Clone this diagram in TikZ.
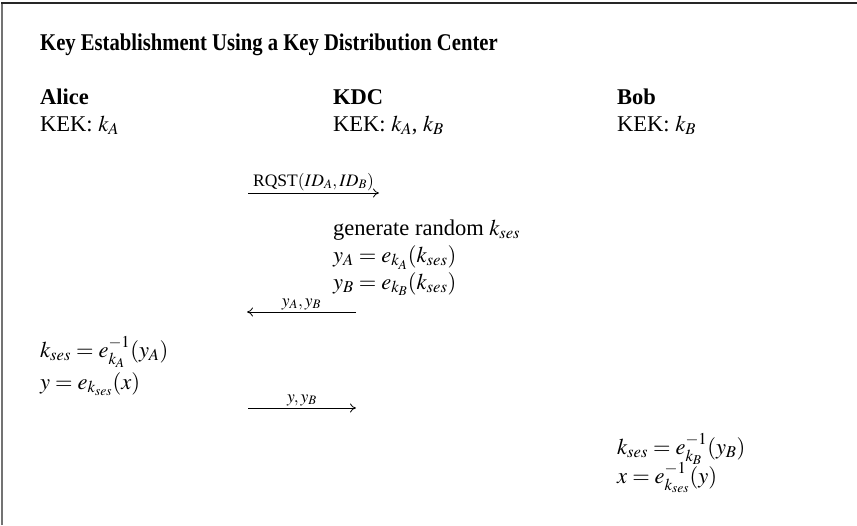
\documentclass[tikz,border=0pt]{standalone}
\usepackage{amsmath}
\usepackage{mathptmx}
\usepackage{fontspec}
\setmainfont{Liberation Serif}
\newfontfamily\titlefam[FakeStretch=0.86]{Liberation Serif}
\usetikzlibrary{arrows.meta,positioning}
\newcommand{\bodyfont}{\fontsize{22.5}{26.5}\selectfont}
\newcommand{\titlefont}{\titlefam\fontsize{24}{28}\selectfont}
\newcommand{\lblfont}{\fontsize{17.5}{21}\selectfont}
\tikzset{
  party/.style ={anchor=base west,inner sep=0pt,font=\bodyfont\bfseries},
  txt/.style   ={anchor=base west,inner sep=0pt,font=\bodyfont},
  msg/.style   ={-{Computer Modern Rightarrow[length=6pt,width=9pt]},line width=0.8pt},
  mlbl/.style  ={above,font=\lblfont,inner sep=2pt},
}

\begin{document}
\begin{tikzpicture}[x=1pt,y=-1pt]
\useasboundingbox (0,0) rectangle (857,525);
% frame
\draw[black!55,line width=2pt] (2,525) -- (2,3);
\draw[black!85,line width=2pt] (1,3) -- (857,3);

\node[anchor=base west,inner sep=0pt,font=\titlefont\bfseries] (title) at (40,50)
  {Key Establishment Using a Key Distribution Center};

% parties
\node[party] (alice) at (40,104)  {Alice};
\node[party] (kdc)   at (333,104) {KDC};
\node[party] (bob)   at (617,104) {Bob};
\node[txt] (kekA) at (40,131)  {KEK: $k_A$};
\node[txt] (kekK) at (333,131) {KEK: $k_A$, $k_B$};
\node[txt] (kekB) at (617,131) {KEK: $k_B$};

% request
\coordinate (m1s) at (248,193);
\coordinate (m1e) at (379,193);
\draw[msg] (m1s) -- node[mlbl]{RQST$(ID_A,ID_B)$} (m1e);

% KDC side
\node[txt] (gen) at (333,235) {generate random $k_{ses}$};
\node[txt] (ya)  at (333,262) {$y_A=e_{k_A}(k_{ses})$};
\node[txt] (yb)  at (333,289) {$y_B=e_{k_B}(k_{ses})$};

\coordinate (m2s) at (356,312);
\coordinate (m2e) at (247,312);
\draw[msg] (m2s) -- node[mlbl]{$y_A,y_B$} (m2e);

% Alice side
\node[txt] (ka) at (40,357) {$k_{ses}=e_{k_A}^{-1}(y_A)$};
\node[txt] (ye) at (40,389) {$y=e_{k_{ses}}(x)$};

\coordinate (m3s) at (248,408);
\coordinate (m3e) at (356,408);
\draw[msg] (m3s) -- node[mlbl]{$y,y_B$} (m3e);

% Bob side
\node[txt] (kb) at (617,454) {$k_{ses}=e_{k_B}^{-1}(y_B)$};
\node[txt] (xd) at (617,483) {$x=e_{k_{ses}}^{-1}(y)$};
\end{tikzpicture}
\end{document}
